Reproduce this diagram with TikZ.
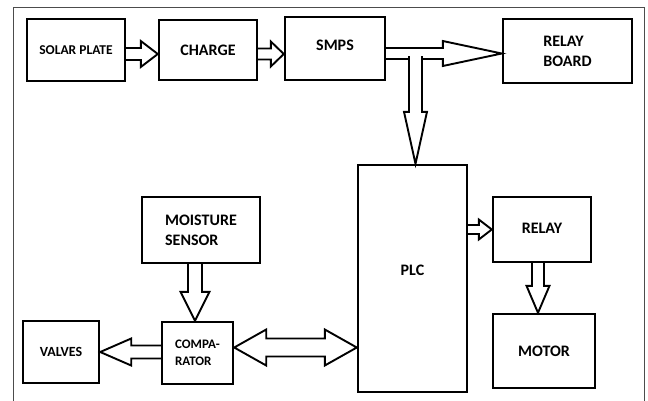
\documentclass[tikz,border=0pt]{standalone}
\usepackage{fontspec}
\setmainfont{Carlito}
\usetikzlibrary{calc}

\begin{document}
\begin{tikzpicture}[x=1pt,y=-1pt,
  blk/.style={draw,line width=2.4pt,inner sep=0pt,align=left,
    font=\fontsize{16}{20}\selectfont\bfseries},
  fat/.style n args={3}{draw,line width=1.9pt,fill=white,to path={
    let \p1=(\tikztostart),\p2=(\tikztotarget),\p3=($(\p2)!#3!(\p1)$) in
    ($(\p1)!#1!90:(\p2)$) -- ($(\p3)!#1!90:(\p2)$) -- ($(\p3)!#2!90:(\p2)$) -- (\p2)
    -- ($(\p3)!#2!-90:(\p2)$) -- ($(\p3)!#1!-90:(\p2)$) -- ($(\p1)!#1!-90:(\p2)$)}},
  fatboth/.style n args={3}{draw,line width=1.9pt,fill=white,to path={
    let \p1=(\tikztostart),\p2=(\tikztotarget),
        \p3=($(\p1)!#3!(\p2)$),\p4=($(\p2)!#3!(\p1)$) in
    (\p1) -- ($(\p3)!#2!90:(\p2)$) -- ($(\p3)!#1!90:(\p2)$) -- ($(\p4)!#1!-90:(\p1)$)
    -- ($(\p4)!#2!-90:(\p1)$) -- (\p2) -- ($(\p4)!#2!90:(\p1)$) -- ($(\p4)!#1!90:(\p1)$)
    -- ($(\p3)!#1!-90:(\p2)$) -- ($(\p3)!#2!-90:(\p2)$) -- cycle}}]

\useasboundingbox (0,0) rectangle (648,400);
\draw[black!70,line width=0.8pt] (13,7) rectangle (644,410);

\node[blk,minimum width=98pt,minimum height=62pt,font=\fontsize{13.5}{16}\selectfont\bfseries] (solar) at (76,50) {SOLAR PLATE};
\node[blk,minimum width=98pt,minimum height=60pt] (charge) at (208,50) {CHARGE};
\node[blk,minimum width=100pt,minimum height=63pt,text depth=6pt] (smps) at (335,48.5) {SMPS};
\node[blk,minimum width=129pt,minimum height=64pt] (rboard) at (567.5,51) {RELAY\\BOARD};
\node[blk,minimum width=109pt,minimum height=227pt,text depth=16pt] (plc) at (412.5,278.5) {PLC};
\node[blk,minimum width=98pt,minimum height=65pt,text depth=3pt] (relay) at (542,229.5) {RELAY};
\node[blk,minimum width=102pt,minimum height=74pt] (motor) at (544,351) {MOTOR};
\node[blk,minimum width=118pt,minimum height=66pt] (sensor) at (201,230) {MOISTURE\\SENSOR};
\node[blk,minimum width=71pt,minimum height=62pt,font=\fontsize{13}{17}\selectfont\bfseries] (comp) at (197.5,353) {COMPA-\\RATOR};
\node[blk,minimum width=76pt,minimum height=62pt,font=\fontsize{14}{17}\selectfont\bfseries] (valves) at (61,352) {VALVES};

\draw[fat={6pt}{13pt}{17pt}] ([yshift=-4pt]solar.east) to ([yshift=-4pt]charge.west);
\draw[fat={5.5pt}{12.5pt}{13pt}] ([yshift=-4pt]charge.east) to ([yshift=-5.5pt]smps.west);
\draw[fat={5.5pt}{12.5pt}{59pt}] ([yshift=-5pt]smps.east) to ([yshift=-2.5pt]rboard.west);
\coordinate (tee) at (415.5,56);
\draw[fat={6.5pt}{11.5pt}{52pt}] (tee) to (tee |- plc.north);
\draw[fat={4.5pt}{10pt}{13pt}] (plc.east |- relay.west) to (relay.west);
\draw[fat={6pt}{11.5pt}{27pt}] ([xshift=-4pt]relay.south) to ([xshift=-4pt]relay.south |- motor.north);
\draw[fat={7pt}{14.5pt}{29pt}] ([xshift=-6pt]sensor.south) to ([xshift=-6pt]sensor.south |- comp.north);
\draw[fat={6.5pt}{13.5pt}{31pt}] ([yshift=1pt]comp.west) to ([yshift=1pt]comp.west -| valves.east);
\draw[fatboth={9pt}{18pt}{32pt}] ([yshift=5.5pt]comp.east) to ([yshift=5.5pt]comp.east -| plc.west);
\end{tikzpicture}
\end{document}
